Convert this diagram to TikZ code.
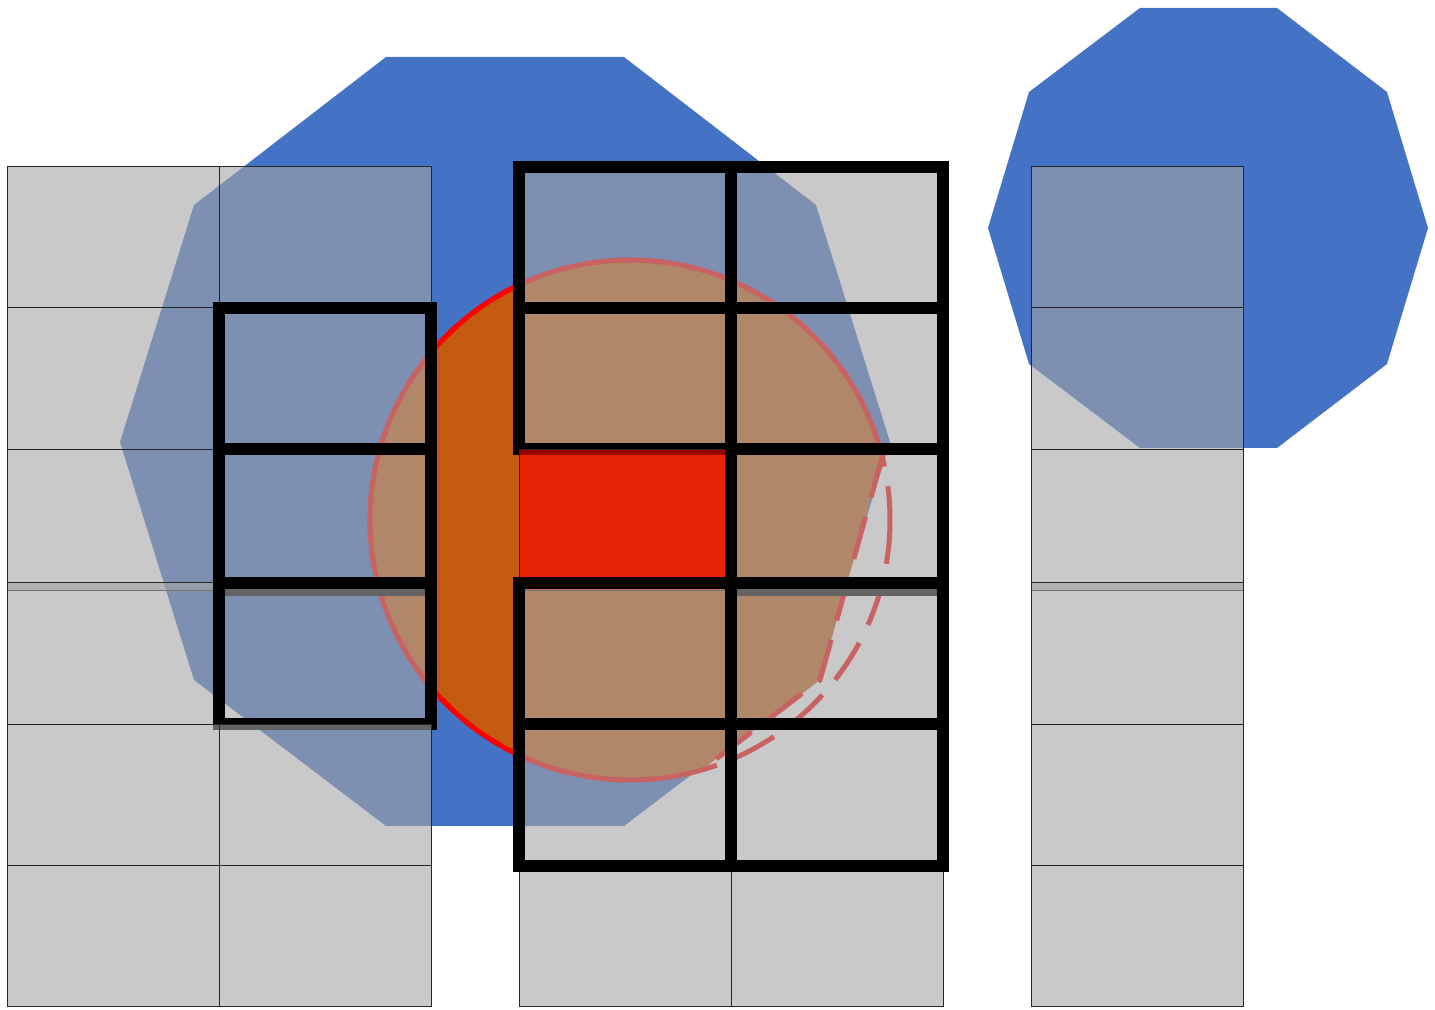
\documentclass[tikz,border=0pt]{standalone}
\usetikzlibrary{calc}
\definecolor{cblue}{HTML}{4472C4}
\definecolor{corange}{HTML}{C55A11}
\definecolor{cgrey}{HTML}{A5A5A5}
\definecolor{cred}{HTML}{FF0000}
\tikzset{
  cell/.style={fill=cgrey, fill opacity=0.6, draw=black!85, line width=0.1mm},
  boxcell/.style={cell, draw=black, line width=1.2mm},
  hotcell/.style={cell, fill=cred},
  ring/.style={draw=cred, line width=0.5mm, dash pattern=on 4.4mm off 2mm},
}

\begin{document}
\begin{tikzpicture}[x=0.1mm, y=-0.1mm]
  \useasboundingbox (0,0) rectangle (1435,1010);
  % decagons
  \fill[cblue] (386,57) -- (624,57) -- (816,205) -- (890,442) -- (816,680) -- (624,826)
    -- (386,826) -- (194,680) -- (120,442) -- (194,205) -- cycle;
  \fill[cblue] (1140,8) -- (1277,8) -- (1387,92) -- (1428,228) -- (1387,364) -- (1277,448)
    -- (1140,448) -- (1029,364) -- (988,228) -- (1029,92) -- cycle;
  % circle, flattened on the lower right
  \coordinate (c) at (630,520);
  \fill[corange] ($(c)+(74:260)$) arc[start angle=74, end angle=346, radius=260] -- (820,680) -- cycle;
  \draw[ring] (c) circle[radius=260];
  \draw[ring, dash phase=4.78mm] ($(c)+(74:260)$) arc[start angle=74, end angle=346, radius=260] -- (820,680) -- cycle;
  % three grids, upper block then lower block
  \foreach \y/\a/\b/\c/\d/\e in {
      166.7/cell/cell/boxcell/boxcell/cell,
      307.9/cell/boxcell/boxcell/boxcell/cell,
      449.1/cell/boxcell/hotcell/boxcell/cell,
      583.0/cell/boxcell/boxcell/boxcell/cell,
      865.6/cell/cell/cell/cell/cell,
      724.3/cell/cell/boxcell/boxcell/cell} {
    \path[\a] (7.3,\y) rectangle ++(212,141.3);
    \path[\b] (219.3,\y) rectangle ++(212,141.3);
    \path[\c] (519,\y) rectangle ++(212,141.3);
    \path[\d] (731,\y) rectangle ++(212,141.3);
    \path[\e] (1031,\y) rectangle ++(212,141.3);
  }
\end{tikzpicture}
\end{document}
